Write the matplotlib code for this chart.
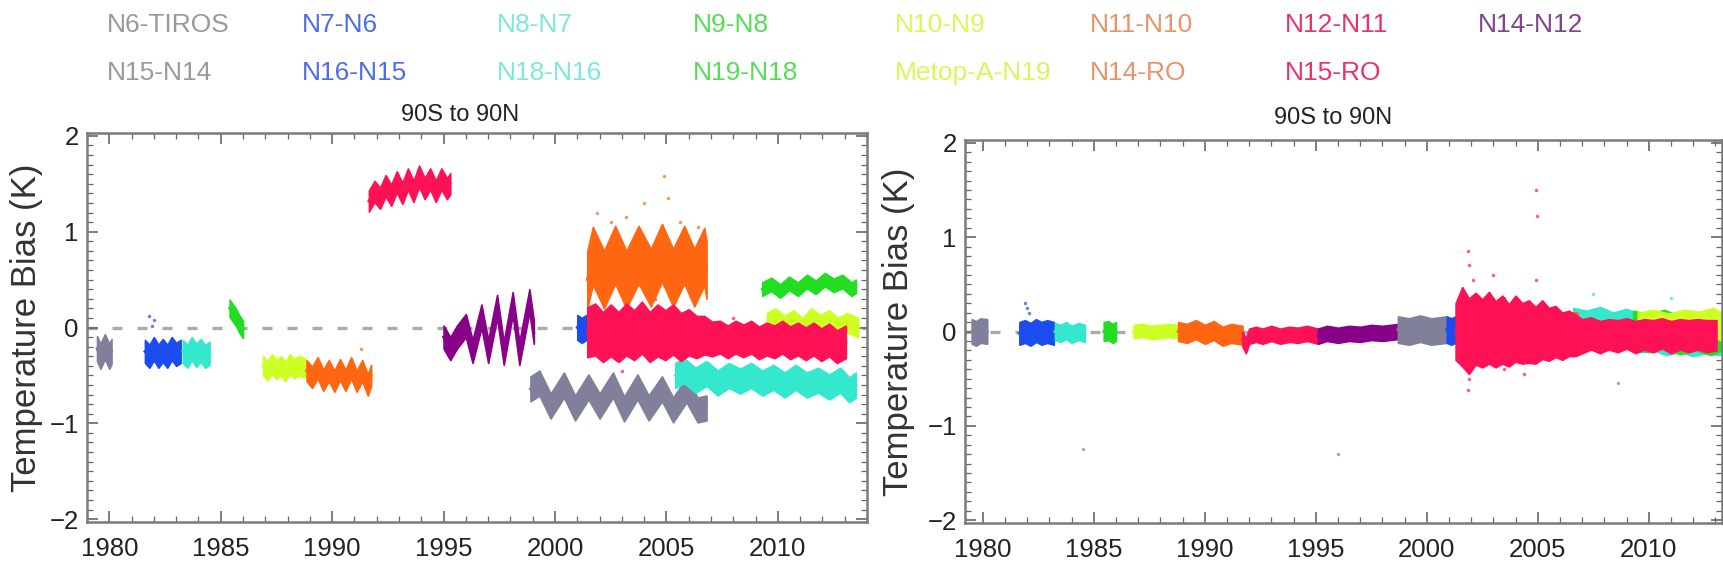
# -*- coding: utf-8 -*-
"""
Temperature bias time series, 90S to 90N
- left: before adjustment, right: after adjustment
"""
import matplotlib
matplotlib.use('Agg')
import matplotlib.pyplot as plt
from matplotlib.ticker import MultipleLocator

plt.rcParams['font.family'] = ['Liberation Sans', 'DejaVu Sans']

# ==================== legend / series ====================
LABELS_ROW1 = ['N6-TIROS', 'N7-N6', 'N8-N7', 'N9-N8', 'N10-N9', 'N11-N10', 'N12-N11', 'N14-N12']
LABELS_ROW2 = ['N15-N14', 'N16-N15', 'N18-N16', 'N19-N18', 'Metop-A-N19', 'N14-RO', 'N15-RO']

X_TICKS = [1980, 1985, 1990, 1995, 2000, 2005, 2010]
Y_TICKS = [-2, -1, 0, 1, 2]
PANEL_TITLE = '90S to 90N'
Y_LABEL = 'Temperature Bias (K)'

# ==================== left panel (before) ====================
# year vertices, centre bias (K), half spread (K)
l_n6_tiros_t = [1979.45, 1979.6, 1979.8, 1980.0, 1980.1]
l_n6_tiros_v = [-0.22, -0.3, -0.2, -0.3, -0.25]
l_n6_tiros_w = 0.13

l_n7_n6_t = [1981.6, 1981.8, 1982.0, 1982.2, 1982.4, 1982.6, 1982.8, 1983.0, 1983.2]
l_n7_n6_v = [-0.25, -0.3, -0.22, -0.3, -0.24, -0.3, -0.22, -0.28, -0.25]
l_n7_n6_w = 0.12

l_n8_n7_t = [1983.3, 1983.5, 1983.7, 1983.9, 1984.1, 1984.3, 1984.5]
l_n8_n7_v = [-0.25, -0.3, -0.22, -0.29, -0.24, -0.3, -0.27]
l_n8_n7_w = 0.12

l_n9_n8_t = [1985.4, 1985.55, 1985.7, 1985.85, 1986.0]
l_n9_n8_v = [0.2, 0.15, 0.1, 0.03, -0.02]
l_n9_n8_w = 0.09

l_n10_n9_t = [1986.9, 1987.1, 1987.3, 1987.5, 1987.7, 1987.9, 1988.1, 1988.3, 1988.5, 1988.8]
l_n10_n9_v = [-0.4, -0.45, -0.38, -0.44, -0.4, -0.46, -0.38, -0.43, -0.4, -0.42]
l_n10_n9_w = 0.1

l_n11_n10_t = [1988.85, 1989.1, 1989.35, 1989.6, 1989.85, 1990.1, 1990.35, 1990.6, 1990.85,
               1991.1, 1991.35, 1991.6, 1991.75]
l_n11_n10_v = [-0.45, -0.52, -0.42, -0.55, -0.45, -0.56, -0.44, -0.55, -0.42,
               -0.56, -0.45, -0.6, -0.5]
l_n11_n10_w = 0.11

l_n12_n11_t = [1991.65, 1991.9, 1992.15, 1992.4, 1992.65, 1992.9, 1993.15, 1993.4, 1993.65,
               1993.9, 1994.15, 1994.4, 1994.65, 1994.9, 1995.15, 1995.3]
l_n12_n11_v = [1.32, 1.42, 1.35, 1.48, 1.38, 1.52, 1.4, 1.55, 1.42,
               1.58, 1.45, 1.55, 1.42, 1.55, 1.45, 1.5]
l_n12_n11_w = 0.11

l_n14_n12_t = [1995.0, 1995.3, 1995.6, 1996.0, 1996.3, 1996.7, 1997.0, 1997.4, 1997.7,
               1998.1, 1998.4, 1998.85, 1999.05]
l_n14_n12_v = [-0.1, -0.22, -0.1, 0.02, -0.25, 0.12, -0.25, 0.22, -0.27,
               0.25, -0.27, 0.28, -0.05]
l_n14_n12_w = 0.12

l_n15_n14_t = [1998.9, 1999.3, 1999.8, 2000.4, 2000.9, 2001.5, 2002.0, 2002.6, 2003.1,
               2003.7, 2004.2, 2004.8, 2005.3, 2005.9, 2006.4, 2006.8]
l_n15_n14_v = [-0.64, -0.58, -0.82, -0.6, -0.84, -0.62, -0.82, -0.6, -0.85,
               -0.62, -0.84, -0.64, -0.86, -0.65, -0.86, -0.84]
l_n15_n14_w = 0.13

l_n16_n15_t = [2001.0, 2001.2, 2001.4]
l_n16_n15_v = [0.0, -0.03, 0.0]
l_n16_n15_w = 0.13

l_n18_n16_t = [2005.4, 2005.8, 2006.3, 2006.8, 2007.3, 2007.8, 2008.3, 2008.8, 2009.3,
               2009.8, 2010.3, 2010.8, 2011.3, 2011.8, 2012.3, 2012.8, 2013.2, 2013.5]
l_n18_n16_v = [-0.5, -0.45, -0.55, -0.48, -0.58, -0.5, -0.56, -0.5, -0.58,
               -0.52, -0.6, -0.52, -0.6, -0.55, -0.62, -0.55, -0.65, -0.6]
l_n18_n16_w = 0.13

l_n19_n18_t = [2009.3, 2009.7, 2010.1, 2010.5, 2010.9, 2011.3, 2011.7, 2012.1, 2012.5,
               2012.9, 2013.3, 2013.5]
l_n19_n18_v = [0.4, 0.45, 0.38, 0.46, 0.4, 0.48, 0.42, 0.5, 0.44, 0.48, 0.4, 0.43]
l_n19_n18_w = 0.07

l_metop_n19_t = [2009.5, 2009.9, 2010.3, 2010.7, 2011.1, 2011.5, 2011.9, 2012.3, 2012.7,
                 2013.1, 2013.6]
l_metop_n19_v = [0.05, 0.1, 0.02, 0.08, 0.0, 0.1, 0.03, 0.08, 0.0, 0.05, 0.0]
l_metop_n19_w = 0.1

l_n14_ro_t = [2001.45, 2001.7, 2002.2, 2002.7, 2003.2, 2003.75, 2004.3, 2004.8, 2005.3,
              2005.8, 2006.25, 2006.7, 2006.8]
l_n14_ro_v = [0.5, 0.75, 0.5, 0.76, 0.5, 0.76, 0.52, 0.78, 0.52, 0.76, 0.52, 0.74, 0.6]
l_n14_ro_w = 0.3

l_n15_ro_t = [2001.45, 2001.8, 2002.15, 2002.5, 2002.85, 2003.2, 2003.55, 2003.9, 2004.25,
              2004.6, 2004.95, 2005.3, 2005.65, 2006.0, 2006.35, 2006.7, 2007.05, 2007.4,
              2007.75, 2008.1, 2008.45, 2008.8, 2009.15, 2009.5, 2009.85, 2010.2, 2010.55,
              2010.9, 2011.25, 2011.6, 2011.95, 2012.3, 2012.65, 2013.05]
l_n15_ro_v = [-0.05, -0.02, -0.1, -0.03, -0.1, -0.02, -0.08, 0.0, -0.1,
              -0.03, -0.08, -0.02, -0.1, -0.05, -0.1, -0.08, -0.12, -0.1,
              -0.15, -0.1, -0.14, -0.1, -0.16, -0.12, -0.15, -0.1, -0.16,
              -0.12, -0.17, -0.12, -0.18, -0.13, -0.2, -0.15]
l_n15_ro_w = [0.26, 0.27, 0.26, 0.27, 0.26, 0.27, 0.26, 0.27, 0.26,
              0.27, 0.26, 0.26, 0.25, 0.24, 0.22, 0.2, 0.18, 0.17,
              0.17, 0.17, 0.17, 0.17, 0.17, 0.17, 0.17, 0.17, 0.17,
              0.17, 0.17, 0.17, 0.17, 0.17, 0.17, 0.17]

l_out_series = ['N7-N6', 'N7-N6', 'N7-N6', 'N11-N10', 'N14-RO', 'N14-RO', 'N14-RO', 'N14-RO',
                'N14-RO', 'N14-RO', 'N14-RO', 'N14-RO', 'N15-RO', 'N15-RO', 'N15-RO', 'N15-RO']
l_out_year = [1981.8, 1982.0, 1981.9, 1991.3, 2001.9, 2002.5, 2003.2, 2004.0,
              2004.9, 2005.05, 2005.6, 2006.4, 2002.3, 2003.0, 2004.5, 2008.0]
l_out_bias = [0.12, 0.08, 0.02, -0.22, 1.2, 1.1, 1.15, 1.3,
              1.58, 1.35, 1.1, 1.05, 0.3, -0.45, 0.3, 0.1]

# ==================== right panel (after) ====================
r_n6_tiros_t = [1979.5, 1979.7, 1979.9, 1980.2]
r_n6_tiros_v = [0.0, -0.02, 0.01, 0.0]
r_n6_tiros_w = 0.13

r_n7_n6_t = [1981.65, 1981.9, 1982.15, 1982.4, 1982.65, 1982.9, 1983.2]
r_n7_n6_v = [-0.02, 0.0, -0.03, 0.01, -0.02, 0.0, -0.02]
r_n7_n6_w = 0.12

r_n8_n7_t = [1983.25, 1983.5, 1983.75, 1984.0, 1984.3, 1984.6]
r_n8_n7_v = [0.0, -0.02, 0.01, -0.03, 0.0, -0.02]
r_n8_n7_w = 0.09

r_n9_n8_t = [1985.45, 1985.65, 1985.85, 1986.0]
r_n9_n8_v = [0.0, 0.01, -0.02, 0.0]
r_n9_n8_w = 0.1

r_n10_n9_t = [1986.8, 1987.2, 1987.6, 1988.0, 1988.4, 1988.8]
r_n10_n9_v = [0.0, 0.01, -0.01, 0.0, 0.01, 0.0]
r_n10_n9_w = 0.07

r_n11_n10_t = [1988.8, 1989.2, 1989.6, 1990.0, 1990.4, 1990.8, 1991.2, 1991.7]
r_n11_n10_v = [0.0, -0.02, 0.02, -0.03, 0.01, -0.05, -0.02, -0.04]
r_n11_n10_w = 0.1

r_n12_n11_t = [1991.7, 1991.85, 1992.0, 1992.3, 1992.6, 1993.0, 1993.4, 1993.8, 1994.2,
               1994.6, 1995.1]
r_n12_n11_v = [-0.08, -0.15, -0.05, -0.03, -0.05, -0.02, -0.05, -0.03, -0.04, -0.02, -0.05]
r_n12_n11_w = 0.08

r_n14_n12_t = [1995.1, 1995.5, 1996.0, 1996.5, 1997.0, 1997.5, 1998.0, 1998.7]
r_n14_n12_v = [-0.05, -0.02, -0.04, -0.02, -0.03, -0.01, -0.02, 0.0]
r_n14_n12_w = 0.08

r_n15_n14_t = [1998.7, 1999.2, 1999.7, 2000.2, 2000.9]
r_n15_n14_v = [0.02, 0.0, 0.03, 0.0, 0.02]
r_n15_n14_w = 0.14

r_n16_n15_t = [2000.9, 2001.1, 2001.3]
r_n16_n15_v = [0.02, 0.0, 0.02]
r_n16_n15_w = 0.14

r_n18_n16_t = [2006.6, 2007.2, 2007.8, 2008.4, 2009.0, 2009.6, 2010.2, 2010.8, 2011.4,
               2012.0, 2012.6, 2013.2]
r_n18_n16_v = [0.05, 0.02, 0.06, 0.0, 0.04, -0.02, 0.0, -0.05, -0.02, -0.06, -0.03, -0.05]
r_n18_n16_w = 0.2

r_n19_n18_t = [2009.3, 2010.0, 2010.7, 2011.4, 2012.1, 2012.8, 2013.3]
r_n19_n18_v = [0.02, -0.02, 0.03, -0.04, 0.0, -0.05, 0.0]
r_n19_n18_w = 0.2

r_metop_n19_t = [2009.5, 2010.2, 2010.9, 2011.6, 2012.3, 2012.9, 2013.3]
r_metop_n19_v = [0.05, 0.08, 0.04, 0.08, 0.06, 0.1, 0.05]
r_metop_n19_w = 0.15

r_n14_ro_t = [2001.5, 2004.0, 2006.8]
r_n14_ro_v = [0.0, 0.0, 0.0]
r_n14_ro_w = 0.2

r_n15_ro_t = [2001.3, 2001.6, 2001.9, 2002.2, 2002.5, 2002.8, 2003.1, 2003.4, 2003.7,
              2004.0, 2004.3, 2004.6, 2004.9, 2005.2, 2005.5, 2005.8, 2006.1, 2006.4,
              2006.7, 2007.0, 2007.4, 2007.8, 2008.2, 2008.6, 2009.0, 2009.4, 2009.8,
              2010.2, 2010.6, 2011.0, 2011.4, 2011.8, 2012.2, 2012.6, 2013.05]
r_n15_ro_v = [0.0, 0.05, -0.05, 0.03, -0.02, 0.04, -0.03, 0.02, -0.04,
              0.03, -0.02, 0.0, -0.04, 0.02, -0.03, 0.0, -0.05, -0.02,
              -0.04, -0.05, -0.02, -0.06, -0.03, -0.05, -0.02, -0.06, -0.03,
              -0.05, -0.02, -0.06, -0.03, -0.05, -0.03, -0.05, -0.04]
r_n15_ro_w = [0.3, 0.42, 0.4, 0.38, 0.36, 0.38, 0.35, 0.36, 0.33,
              0.35, 0.32, 0.33, 0.3, 0.31, 0.28, 0.27, 0.25, 0.24,
              0.22, 0.18, 0.17, 0.17, 0.16, 0.17, 0.16, 0.17, 0.16,
              0.17, 0.16, 0.17, 0.16, 0.17, 0.16, 0.17, 0.16]

r_out_series = ['N7-N6', 'N7-N6', 'N7-N6', 'N15-RO', 'N15-RO', 'N15-RO', 'N15-RO', 'N15-RO',
                'N15-RO', 'N15-RO', 'N15-RO', 'N15-RO', 'N15-RO', 'N15-RO', 'N15-RO',
                'N15-N14', 'N15-N14', 'N15-N14', 'N18-N16', 'N18-N16']
r_out_year = [1981.9, 1982.0, 1982.1, 2001.85, 2001.9, 2001.85, 2001.9, 2002.1,
              2003.0, 2003.5, 2004.9, 2004.95, 2004.9, 2004.4, 2003.5,
              1984.5, 1996.0, 2008.6, 2007.5, 2011.0]
r_out_bias = [0.3, 0.25, 0.2, 0.85, 0.7, -0.62, -0.5, 0.55,
              0.6, 0.35, 1.5, 1.22, 0.55, -0.45, -0.4,
              -1.25, -1.3, -0.55, 0.4, 0.35]

# ==================== colours ====================
COLORS = {
    'N6-TIROS': '#80809a', 'N15-N14': '#80809a',
    'N7-N6': '#1a4cf0', 'N16-N15': '#1a4cf0',
    'N8-N7': '#33e8cc', 'N18-N16': '#33e8cc',
    'N9-N8': '#22dd22', 'N19-N18': '#22dd22',
    'N10-N9': '#ccff22', 'Metop-A-N19': '#ccff22',
    'N11-N10': '#ff6611', 'N14-RO': '#ff6611',
    'N12-N11': '#ff1155', 'N15-RO': '#ff1155',
    'N14-N12': '#880088',
}
TEXT_COLORS = {
    'N6-TIROS': '#9a9a9a', 'N15-N14': '#9a9a9a',
    'N7-N6': '#4a6ee8', 'N16-N15': '#4a6ee8',
    'N8-N7': '#7de8da', 'N18-N16': '#7de8da',
    'N9-N8': '#55dd55', 'N19-N18': '#55dd55',
    'N10-N9': '#d8f85a', 'Metop-A-N19': '#d8f85a',
    'N11-N10': '#e8946a', 'N14-RO': '#e8946a',
    'N12-N11': '#e8336e', 'N15-RO': '#e8336e',
    'N14-N12': '#84448a',
}

left_segments = {
    'N6-TIROS': (l_n6_tiros_t, l_n6_tiros_v, l_n6_tiros_w),
    'N7-N6': (l_n7_n6_t, l_n7_n6_v, l_n7_n6_w),
    'N8-N7': (l_n8_n7_t, l_n8_n7_v, l_n8_n7_w),
    'N9-N8': (l_n9_n8_t, l_n9_n8_v, l_n9_n8_w),
    'N10-N9': (l_n10_n9_t, l_n10_n9_v, l_n10_n9_w),
    'N11-N10': (l_n11_n10_t, l_n11_n10_v, l_n11_n10_w),
    'N12-N11': (l_n12_n11_t, l_n12_n11_v, l_n12_n11_w),
    'N14-N12': (l_n14_n12_t, l_n14_n12_v, l_n14_n12_w),
    'N15-N14': (l_n15_n14_t, l_n15_n14_v, l_n15_n14_w),
    'N16-N15': (l_n16_n15_t, l_n16_n15_v, l_n16_n15_w),
    'N18-N16': (l_n18_n16_t, l_n18_n16_v, l_n18_n16_w),
    'N19-N18': (l_n19_n18_t, l_n19_n18_v, l_n19_n18_w),
    'Metop-A-N19': (l_metop_n19_t, l_metop_n19_v, l_metop_n19_w),
    'N14-RO': (l_n14_ro_t, l_n14_ro_v, l_n14_ro_w),
    'N15-RO': (l_n15_ro_t, l_n15_ro_v, l_n15_ro_w),
}
right_segments = {
    'N6-TIROS': (r_n6_tiros_t, r_n6_tiros_v, r_n6_tiros_w),
    'N7-N6': (r_n7_n6_t, r_n7_n6_v, r_n7_n6_w),
    'N8-N7': (r_n8_n7_t, r_n8_n7_v, r_n8_n7_w),
    'N9-N8': (r_n9_n8_t, r_n9_n8_v, r_n9_n8_w),
    'N10-N9': (r_n10_n9_t, r_n10_n9_v, r_n10_n9_w),
    'N11-N10': (r_n11_n10_t, r_n11_n10_v, r_n11_n10_w),
    'N12-N11': (r_n12_n11_t, r_n12_n11_v, r_n12_n11_w),
    'N14-N12': (r_n14_n12_t, r_n14_n12_v, r_n14_n12_w),
    'N15-N14': (r_n15_n14_t, r_n15_n14_v, r_n15_n14_w),
    'N16-N15': (r_n16_n15_t, r_n16_n15_v, r_n16_n15_w),
    'N18-N16': (r_n18_n16_t, r_n18_n16_v, r_n18_n16_w),
    'N19-N18': (r_n19_n18_t, r_n19_n18_v, r_n19_n18_w),
    'Metop-A-N19': (r_metop_n19_t, r_metop_n19_v, r_metop_n19_w),
    'N14-RO': (r_n14_ro_t, r_n14_ro_v, r_n14_ro_w),
    'N15-RO': (r_n15_ro_t, r_n15_ro_v, r_n15_ro_w),
}


def draw_panel(ax, segments, out_series, out_year, out_bias, xlim):
    ax.axhline(0, color='#aaaaaa', linewidth=2.4, dashes=(3.0, 4.5), zorder=1)
    for z, name in enumerate(LABELS_ROW1 + LABELS_ROW2):
        t, v, w = segments[name]
        if isinstance(w, list):
            lo = [a - b for a, b in zip(v, w)]
            hi = [a + b for a, b in zip(v, w)]
        else:
            lo = [a - w for a in v]
            hi = [a + w for a in v]
        ax.fill_between(t, lo, hi, color=COLORS[name], linewidth=1.2,
                        edgecolor=COLORS[name], zorder=2 + z * 0.01)
        ax.plot(t, v, color=COLORS[name], linewidth=2, zorder=2 + z * 0.01)
    for s, x, y in zip(out_series, out_year, out_bias):
        ax.scatter([x], [y], s=6, color=COLORS[s], alpha=0.7, linewidths=0, zorder=1.5)

    ax.set_xlim(*xlim)
    ax.set_ylim(-2.03, 2.03)
    ax.set_xticks(X_TICKS)
    ax.set_yticks(Y_TICKS)
    ax.xaxis.set_minor_locator(MultipleLocator(1))
    ax.yaxis.set_minor_locator(MultipleLocator(0.1))
    ax.tick_params(which='both', direction='in', top=True, right=True, color='#666666')
    ax.tick_params(which='major', length=8, width=1.2)
    ax.tick_params(which='minor', length=4, width=0.9)
    ax.tick_params(axis='x', pad=11)
    ax.tick_params(axis='y', pad=6)
    for lab in ax.get_xticklabels() + ax.get_yticklabels():
        lab.set_fontsize(18.5)
        lab.set_color('#222222')
    for sp in ax.spines.values():
        sp.set_color('#7a7a7a')
        sp.set_linewidth(1.8)
    ax.set_ylabel(Y_LABEL, fontsize=25, color='#333333')


W, H = 1723, 577
fig = plt.figure(figsize=(W / 100, H / 100), dpi=100)

ax1 = fig.add_axes([87 / W, 1 - 522 / H, 780 / W, 389 / H])
draw_panel(ax1, left_segments, l_out_series, l_out_year, l_out_bias, (1979.0, 2014.0))
ax1.yaxis.set_label_coords(-0.056, 0.5)

ax2 = fig.add_axes([965 / W, 1 - 523 / H, 757 / W, 383 / H])
draw_panel(ax2, right_segments, r_out_series, r_out_year, r_out_bias, (1979.2, 2013.3))
ax2.yaxis.set_label_coords(-0.066, 0.5)

# panel titles
fig.text(460 / W, 1 - 115 / H, PANEL_TITLE, ha='center', va='center', fontsize=17,
         color='#222222')
fig.text(1333 / W, 1 - 118 / H, PANEL_TITLE, ha='center', va='center', fontsize=17,
         color='#222222')

# legend text, two rows
col_x = [107, 302, 497, 693, 895, 1090, 1285, 1478]
for row_y, labels in ((25, LABELS_ROW1), (73, LABELS_ROW2)):
    for x, name in zip(col_x, labels):
        fig.text(x / W, 1 - row_y / H, name, ha='left', va='center', fontsize=19,
                 color=TEXT_COLORS[name])

fig.savefig('out.png', dpi=100)
